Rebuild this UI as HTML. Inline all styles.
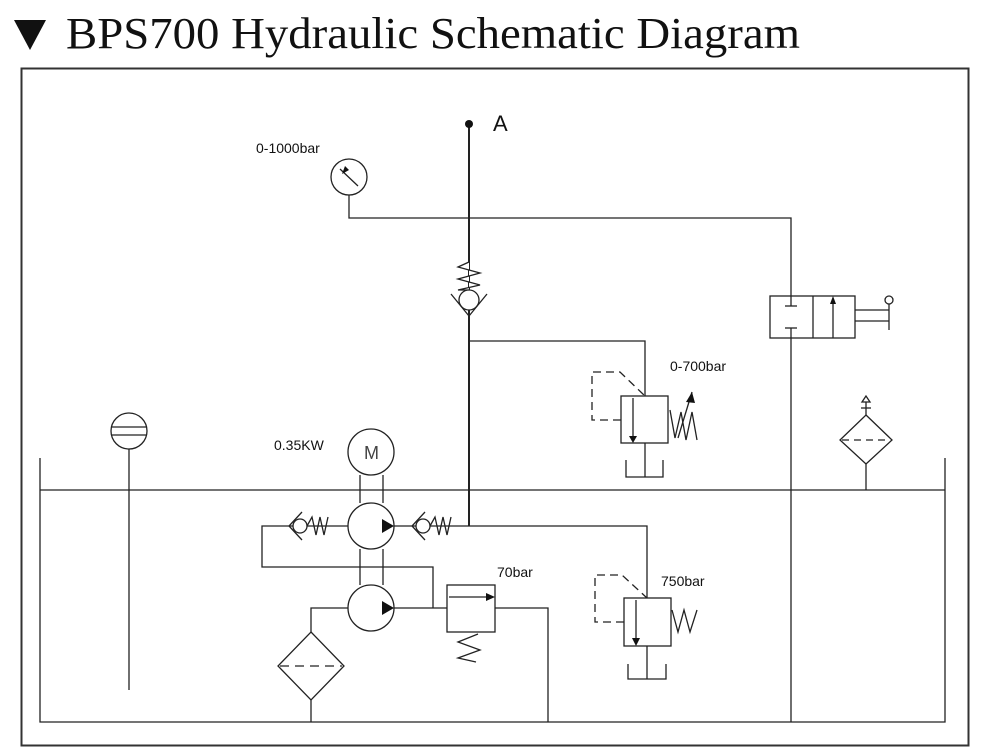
<!DOCTYPE html>
<html><head><meta charset="utf-8"><style>
html,body{margin:0;padding:0;background:#fff;width:1000px;height:750px;overflow:hidden}
svg{display:block}
</style></head><body>
<svg width="1000" height="750" viewBox="0 0 1000 750" xmlns="http://www.w3.org/2000/svg">
<polygon points="14,20 46,20 30,50" fill="#111"/>
<text x="66" y="48" font-family="Liberation Serif, serif" font-size="44" fill="#111" textLength="734" lengthAdjust="spacingAndGlyphs">BPS700 Hydraulic Schematic Diagram</text>
<rect x="21.5" y="68.5" width="947" height="677" fill="none" stroke="#333" stroke-width="2"/>
<g fill="none" stroke="#222" stroke-width="1.3">
<!-- tank -->
<polyline points="40,458 40,722 945,722 945,458"/>
<line x1="40" y1="490" x2="945" y2="490"/>
<!-- level indicator -->
<circle cx="129" cy="431" r="18"/>
<line x1="112" y1="427" x2="146" y2="427"/><line x1="112" y1="435" x2="146" y2="435"/>
<line x1="129" y1="449" x2="129" y2="690"/>
<!-- gauge -->
<circle cx="349" cy="177" r="18"/>
<line x1="340" y1="169" x2="358" y2="186"/>
<polyline points="349,195 349,218 791,218 791,296"/>
<!-- main vertical -->
<line x1="469" y1="124" x2="469" y2="526" stroke-width="2"/>
<!-- check valve vertical -->
<polyline points="469,262 458,267 480,273 458,279 480,285 458,290 469,290" fill="#fff"/>
<circle cx="469" cy="300" r="10" fill="#fff"/>
<polyline points="451,294 469,316 487,294"/>
<!-- branch to 0-700 valve -->
<polyline points="469,341 645,341 645,396"/>
<rect x="621" y="396" width="47" height="47" fill="#fff"/>
<line x1="633" y1="398" x2="633" y2="436"/>
<polyline points="645,443 645,477"/>
<polyline points="626,460 626,477 663,477 663,460"/>
<polyline points="621,420 592,420 592,372 620,372 645,396" stroke-dasharray="8,5"/>
<polyline points="670,410 675,438 681,412 686,440 692,412 697,440"/>
<line x1="678" y1="438" x2="692" y2="392"/>
<!-- directional valve -->
<rect x="770" y="296" width="85" height="42" fill="#fff"/>
<line x1="813" y1="296" x2="813" y2="338"/>
<line x1="833" y1="302" x2="833" y2="338"/>
<line x1="791" y1="296" x2="791" y2="306"/><line x1="785" y1="306" x2="797" y2="306"/>
<line x1="791" y1="338" x2="791" y2="328"/><line x1="785" y1="328" x2="797" y2="328"/>
<line x1="791" y1="338" x2="791" y2="722"/>
<line x1="855" y1="310" x2="889" y2="310"/><line x1="855" y1="321" x2="889" y2="321"/>
<line x1="889" y1="304" x2="889" y2="330"/>
<circle cx="889" cy="300" r="4"/>
<!-- right filter -->
<polygon points="866,415 892,440 866,464 840,440"/>
<line x1="842" y1="440" x2="890" y2="440" stroke-dasharray="7,5"/>
<line x1="866" y1="464" x2="866" y2="490"/>
<line x1="866" y1="415" x2="866" y2="402"/>
<line x1="861" y1="408" x2="871" y2="408"/>
<polygon points="866,396 862,402 870,402"/>
<!-- motor & pumps -->
<circle cx="371" cy="452" r="23"/>
<line x1="360" y1="475" x2="360" y2="503"/><line x1="383" y1="475" x2="383" y2="503"/>
<circle cx="371" cy="526" r="23"/>
<line x1="360" y1="549" x2="360" y2="585"/><line x1="383" y1="549" x2="383" y2="585"/>
<circle cx="371" cy="608" r="23"/>
<!-- pump1 lines -->
<polyline points="348,526 262,526 262,567 433,567 433,608"/>
<line x1="394" y1="526" x2="469" y2="526"/>
<polyline points="469,526 647,526 647,598"/>
<!-- left check -->
<circle cx="300" cy="526" r="7" fill="#fff"/>
<polyline points="302,512 289,526 302,540"/>
<polyline points="307,526 312,517 316,535 320,517 324,535 328,517"/>
<!-- right check -->
<circle cx="423" cy="526" r="7" fill="#fff"/>
<polyline points="425,512 412,526 425,540"/>
<polyline points="430,526 435,517 439,535 443,517 447,535 451,517"/>
<!-- pump2 line / 70bar valve -->
<line x1="394" y1="608" x2="447" y2="608"/>
<rect x="447" y="585" width="48" height="47" fill="#fff"/>
<line x1="449" y1="597" x2="488" y2="597"/>
<polyline points="495,608 548,608 548,722"/>
<polyline points="478,634 458,642 480,650 458,658 476,662"/>
<!-- left filter -->
<polyline points="348,608 311,608 311,632"/>
<polygon points="311,632 344,666 311,700 278,666"/>
<line x1="280" y1="666" x2="342" y2="666" stroke-dasharray="9,6"/>
<line x1="311" y1="700" x2="311" y2="722"/>
<!-- 750bar valve -->
<rect x="624" y="598" width="47" height="48" fill="#fff"/>
<line x1="636" y1="600" x2="636" y2="640"/>
<line x1="647" y1="646" x2="647" y2="679"/>
<polyline points="628,664 628,679 666,679 666,664"/>
<polyline points="624,622 595,622 595,575 622,575 647,598" stroke-dasharray="8,5"/>
<polyline points="672,610 678,632 684,610 690,632 697,610"/>
</g>
<g fill="#111">
<circle cx="469" cy="124" r="4"/>
<polygon points="382,519 382,533 394,526"/>
<polygon points="382,601 382,615 394,608"/>
<polygon points="495,597 486,593 486,601"/>
<polygon points="629,436 637,436 633,443"/>
<polygon points="632,638 640,638 636,646"/>
<polygon points="833,296 830,304 836,304"/>
<polygon points="692,392 686,402 695,403"/>
<polygon points="345,166 342,174 349,170"/>
</g>
<g font-family="Liberation Sans, sans-serif" font-size="14" fill="#111">
<text x="493" y="131" font-size="22">A</text>
<text x="256" y="153">0-1000bar</text>
<text x="274" y="450">0.35KW</text>
<text x="670" y="371">0-700bar</text>
<text x="497" y="577">70bar</text>
<text x="661" y="586">750bar</text>
</g>
<text x="364" y="459" font-family="Liberation Sans, sans-serif" font-size="18" fill="#444">M</text>
</svg>
</body></html>
